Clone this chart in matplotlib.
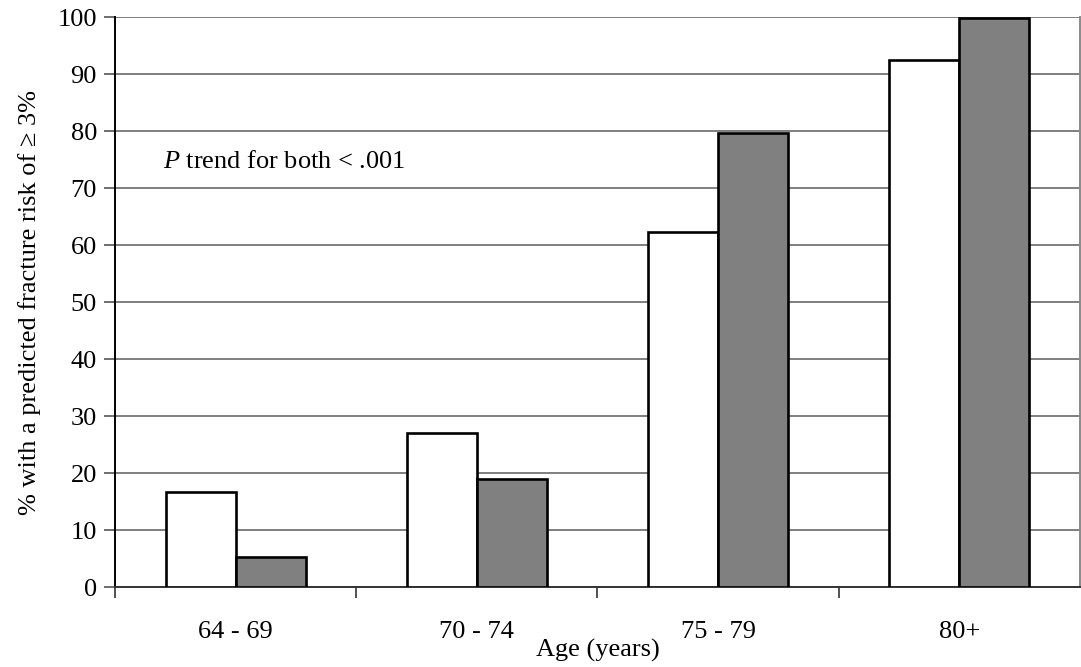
import numpy as np
import matplotlib.pyplot as plt

# Data
age_groups = ["64 - 69", "70 - 74", "75 - 79", "80+"]
white_vals = [16.7, 27.0, 62.3, 92.5]
gray_vals = [5.4, 19.1, 79.7, 99.8]
y_ticks = [0, 10, 20, 30, 40, 50, 60, 70, 80, 90, 100]

plt.rcParams['font.family'] = ['Liberation Serif', 'DejaVu Serif']
plt.rcParams['mathtext.fontset'] = 'custom'
plt.rcParams['mathtext.rm'] = 'Liberation Serif'
plt.rcParams['mathtext.it'] = 'Liberation Serif:italic'

fig = plt.figure(figsize=(10.81, 6.67), dpi=100)
ax = fig.add_axes([0.1064, 0.1192, 0.8926, 0.8553])

x = np.arange(len(age_groups))
w = 0.29
ax.bar(x - w / 2, white_vals, w, color='white', edgecolor='black', linewidth=1.9, zorder=3)
ax.bar(x + w / 2, gray_vals, w, color='#808080', edgecolor='black', linewidth=1.9, zorder=3)

ax.set_xlim(-0.5, len(age_groups) - 0.5)
ax.set_ylim(0, 100)
ax.set_yticks(y_ticks)
ax.yaxis.grid(True, color='#7f7f7f', linewidth=1.4, zorder=0)
ax.tick_params(axis='y', labelsize=19, length=8, width=1.2, color='#555555', pad=5)

# category labels centered, tick marks between categories
ax.set_xticks(np.arange(len(age_groups)) - 0.5)
ax.set_xticklabels([])
ax.set_xticks(x, minor=True)
ax.set_xticklabels(age_groups, minor=True)
ax.tick_params(axis='x', which='major', length=8, width=1.2, color='#333333')
ax.tick_params(axis='x', which='minor', length=0, labelsize=19, pad=24)

ax.spines['left'].set_color('black')
ax.spines['left'].set_linewidth(1.4)
ax.spines['bottom'].set_color('#333333')
ax.spines['bottom'].set_linewidth(1.4)
ax.spines['top'].set_visible(False)
ax.spines['right'].set_color('#8a8a8a')
ax.spines['right'].set_linewidth(1.4)

ax.set_ylabel("% with a predicted fracture risk of \u2265 3%", fontsize=19, labelpad=12)
ax.set_xlabel("Age (years)", fontsize=19, labelpad=-3)

ax.text(-0.3, 74.5, r"$\mathit{P}$ trend for both < .001", fontsize=19,
        ha='left', va='center', zorder=4)

fig.savefig("out.png", dpi=100)
